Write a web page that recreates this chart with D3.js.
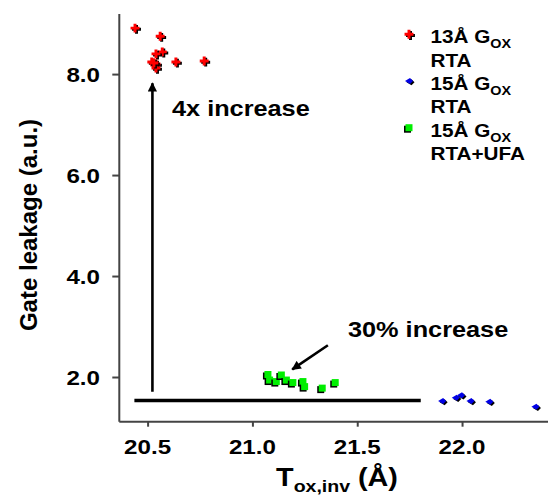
<!DOCTYPE html>
<html>
<head>
<meta charset="utf-8">
<script src="https://cdn.jsdelivr.net/npm/d3@7"></script>
<style>
  body { margin: 0; background: #fff; }
  svg { display: block; }
  text { font-family: "Liberation Sans", Arial, sans-serif; font-weight: bold; fill: #000; }
</style>
</head>
<body>
<svg id="chart" width="548" height="498"></svg>
<script>
// values: [Tox,inv (A), gate leakage (a.u.)]
var rta13 = [[20.44, 8.91], [20.56, 8.75], [20.57, 8.44], [20.54, 8.40], [20.52, 8.24],
             [20.54, 8.20], [20.54, 8.12], [20.635, 8.24], [20.77, 8.26], [20.53, 8.22]];
var rta15 = [[21.905, 1.525], [21.97, 1.59], [21.995, 1.64], [22.04, 1.525], [22.13, 1.51], [22.35, 1.41]];
var ufa15 = [[21.074, 2.05], [21.082, 1.94], [21.114, 1.91], [21.138, 2.04], [21.162, 1.94],
             [21.193, 1.89], [21.241, 1.91], [21.249, 1.81], [21.333, 1.78], [21.395, 1.89]];

var xTicks = [20.5, 21.0, 21.5, 22.0];
var yTicks = [2.0, 4.0, 6.0, 8.0];

// annotations in data units
var baseLine = [[20.437, 1.535], [21.803, 1.535]];
var upArrow = [[20.523, 1.71], [20.523, 7.82]];
var pctArrow = [[21.36, 2.63], [21.19, 2.15]];

var legendItems = [
  {name: "13Å G", sub: "OX", line2: "RTA", kind: "red"},
  {name: "15Å G", sub: "OX", line2: "RTA", kind: "blue"},
  {name: "15Å G", sub: "OX", line2: "RTA+UFA", kind: "green"}
];

var SX = 1.15; // the reference text is a little wide

var svg = d3.select("#chart");

var x = d3.scaleLinear().domain([20.365, 22.41]).range([119.3, 548]);
var y = d3.scaleLinear().domain([1.115, 9.19]).range([421.7, 14]);

function label(g, px, py, size, anchor) {
  return g.append("text")
      .attr("transform", "translate(" + px + "," + py + ") scale(" + SX + ",1)")
      .attr("text-anchor", anchor || "start")
      .style("font-size", size + "px");
}

// axes
var yAxis = svg.append("g")
    .attr("transform", "translate(" + x.range()[0] + ",0)")
    .call(d3.axisLeft(y).tickValues(yTicks).tickSize(7).tickFormat(""));
var xAxis = svg.append("g")
    .attr("transform", "translate(0," + y.range()[0] + ")")
    .call(d3.axisBottom(x).tickValues(xTicks).tickSize(5).tickFormat(""));

[xAxis, yAxis].forEach(function(a) {
  a.select(".domain").attr("stroke", "#444").attr("stroke-width", 2);
  a.selectAll(".tick line").attr("stroke", "#444").attr("stroke-width", 2);
});
// extend the x axis line to the right edge, no outer ticks
xAxis.select(".domain").attr("d", "M" + x.range()[0] + ",0H" + x.range()[1]);
yAxis.select(".domain").attr("d", "M0," + y.range()[0] + "V" + y.range()[1]);

yTicks.forEach(function(t) {
  label(svg, 100, y(t) + 8, 21, "end").text(d3.format(".1f")(t));
});
xTicks.forEach(function(t) {
  label(svg, x(t), 453.5, 21, "middle").text(d3.format(".1f")(t));
});

// axis titles
var xt = label(svg, 337, 486, 25, "middle");
xt.append("tspan").text("T");
xt.append("tspan").attr("dy", 6).style("font-size", "17px").text("ox,inv");
xt.append("tspan").attr("dy", -6).text(" (Å)");

svg.append("text")
    .attr("transform", "translate(37,225) rotate(-90)")
    .attr("text-anchor", "middle")
    .style("font-size", "24px")
    .text("Gate leakage (a.u.)");

// arrow marker
svg.append("defs").append("marker")
    .attr("id", "head")
    .attr("viewBox", "0 -5 10 10")
    .attr("refX", 9)
    .attr("refY", 0)
    .attr("markerWidth", 4.2)
    .attr("markerHeight", 3.6)
    .attr("markerUnits", "strokeWidth")
    .attr("orient", "auto")
  .append("path")
    .attr("d", "M0,-5L10,0L0,5Z")
    .attr("fill", "#000");

var line = d3.line().x(function(d) { return x(d[0]); }).y(function(d) { return y(d[1]); });

svg.append("path").attr("d", line(baseLine))
    .attr("stroke", "#000").attr("stroke-width", 3.5).attr("fill", "none");
svg.append("path").attr("d", line(upArrow))
    .attr("stroke", "#000").attr("stroke-width", 2.6).attr("fill", "none")
    .attr("marker-end", "url(#head)");
svg.append("path").attr("d", line(pctArrow))
    .attr("stroke", "#000").attr("stroke-width", 2.6).attr("fill", "none")
    .attr("marker-end", "url(#head)");

label(svg, 172, 116, 22).text("4x increase");
label(svg, 348, 336.5, 22).text("30% increase");

// markers
var redPath = d3.symbol().type(d3.symbolCross).size(44)();
var bluePath = "M-4,0L1,-3L4,0L1,3Z";
var sqPath = "M-3.5,-3.5H3.5V3.5H-3.5Z";

function drawMarker(g, kind, px, py) {
  var shape = kind === "red" ? redPath : kind === "blue" ? bluePath : sqPath;
  var fill = kind === "red" ? "#ff0000" : kind === "blue" ? "#0000e6" : "#00ee00";
  var off = kind === "green" ? [-1.5, 1.5] : [1.5, 1.2];
  g.append("path").attr("d", shape).attr("fill", "#000")
      .attr("transform", "translate(" + (px + off[0]) + "," + (py + off[1]) + ")");
  g.append("path").attr("d", shape).attr("fill", fill)
      .attr("transform", "translate(" + px + "," + py + ")");
}

var pts = svg.append("g");
ufa15.forEach(function(d) { drawMarker(pts, "green", x(d[0]), y(d[1])); });
rta15.forEach(function(d) { drawMarker(pts, "blue", x(d[0]), y(d[1])); });
rta13.forEach(function(d) { drawMarker(pts, "red", x(d[0]), y(d[1])); });

// legend
var leg = svg.append("g");
legendItems.forEach(function(d, i) {
  var top = 43.3 + i * 46.7;
  drawMarker(leg, d.kind, 409, top - 9);
  var t = label(leg, 430.5, top, 18);
  t.append("tspan").text(d.name);
  t.append("tspan").attr("dy", 5).style("font-size", "12.5px").text(d.sub);
  label(leg, 430.5, top + 23.3, 18).text(d.line2);
});
</script>
</body>
</html>
